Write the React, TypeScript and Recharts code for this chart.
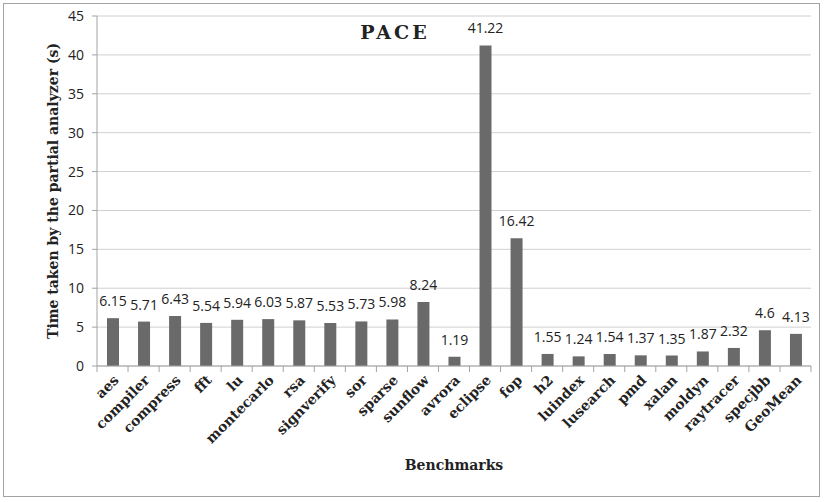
import { BarChart, Bar, XAxis, YAxis, CartesianGrid, LabelList, Text } from "recharts";

const benchmarks = [
  "aes", "compiler", "compress", "fft", "lu", "montecarlo", "rsa", "signverify",
  "sor", "sparse", "sunflow", "avrora", "eclipse", "fop", "h2", "luindex",
  "lusearch", "pmd", "xalan", "moldyn", "raytracer", "specjbb", "GeoMean",
];
const times = [
  6.15, 5.71, 6.43, 5.54, 5.94, 6.03, 5.87, 5.53, 5.73, 5.98, 8.24, 1.19,
  41.22, 16.42, 1.55, 1.24, 1.54, 1.37, 1.35, 1.87, 2.32, 4.6, 4.13,
];
const yTicks = [0, 5, 10, 15, 20, 25, 30, 35, 40, 45];

const data = benchmarks.map((name, i) => ({ name, time: times[i] }));

const W = 824;
const H = 502;
const margin = { top: 16, right: 13, bottom: 16, left: 0 };
const yAxisWidth = 97;
const band = (W - margin.left - margin.right - yAxisWidth) / benchmarks.length;

const serif = "'DejaVu Serif', serif";
const sans = "'Open Sans', sans-serif";
const axisGray = "#a3a3a3";

// category label rotated 45°, plus the boundary tick marks Excel draws between categories
function CategoryTick(props: any) {
  const { x, y, payload, index } = props;
  return (
    <g>
      <line x1={x - band / 2} y1={y - 8} x2={x - band / 2} y2={y - 2} stroke={axisGray} strokeWidth={1} />
      {index === benchmarks.length - 1 && (
        <line x1={x + band / 2} y1={y - 8} x2={x + band / 2} y2={y - 2} stroke={axisGray} strokeWidth={1} />
      )}
      <Text
        x={x}
        y={y}
        angle={-45}
        textAnchor="end"
        verticalAnchor="start"
        fontFamily={serif}
        fontWeight="bold"
        fontSize={14}
        fill="#222"
      >
        {payload.value}
      </Text>
    </g>
  );
}

export default function App() {
  return (
    <div style={{ position: "absolute", left: 0, top: 0, width: W, height: H, background: "#fff" }}>
      <div
        style={{
          position: "absolute", left: 3, top: 3, width: 817, height: 494,
          boxSizing: "border-box", border: `1px solid ${axisGray}`,
        }}
      />
      <BarChart width={W} height={H} data={data} margin={margin} barSize={12}>
        <CartesianGrid vertical={false} stroke="#d0d0d0" />
        <XAxis
          dataKey="name"
          interval={0}
          stroke={axisGray}
          tickLine={false}
          tickSize={6}
          tickMargin={2}
          height={120}
          tick={<CategoryTick />}
          label={{
            value: "Benchmarks", position: "insideBottom", offset: 16,
            style: { fontFamily: serif, fontWeight: "bold", fontSize: 14, fill: "#222" },
          }}
        />
        <YAxis
          domain={[0, 45]}
          ticks={yTicks}
          width={yAxisWidth}
          stroke={axisGray}
          tickSize={5}
          tickMargin={8}
          tick={{ fontFamily: sans, fontSize: 14, fill: "#222" }}
          label={{
            value: "Time taken by the partial analyzer (s)", angle: -90, position: "center", dx: 5,
            style: { fontFamily: serif, fontWeight: "bold", fontSize: 14, fill: "#222", textAnchor: "middle" },
          }}
        />
        <Bar dataKey="time" fill="#6a6a6a" isAnimationActive={false}>
          <LabelList
            dataKey="time"
            position="top"
            offset={12}
            style={{ fontFamily: sans, fontSize: 14, fill: "#222" }}
          />
        </Bar>
      </BarChart>
      <div
        style={{
          position: "absolute", left: 300, top: 23, width: 190, textAlign: "center",
          fontFamily: serif, fontWeight: "bold", fontSize: 19, lineHeight: "19px",
          letterSpacing: 3, color: "#222",
        }}
      >
        PACE
      </div>
    </div>
  );
}
